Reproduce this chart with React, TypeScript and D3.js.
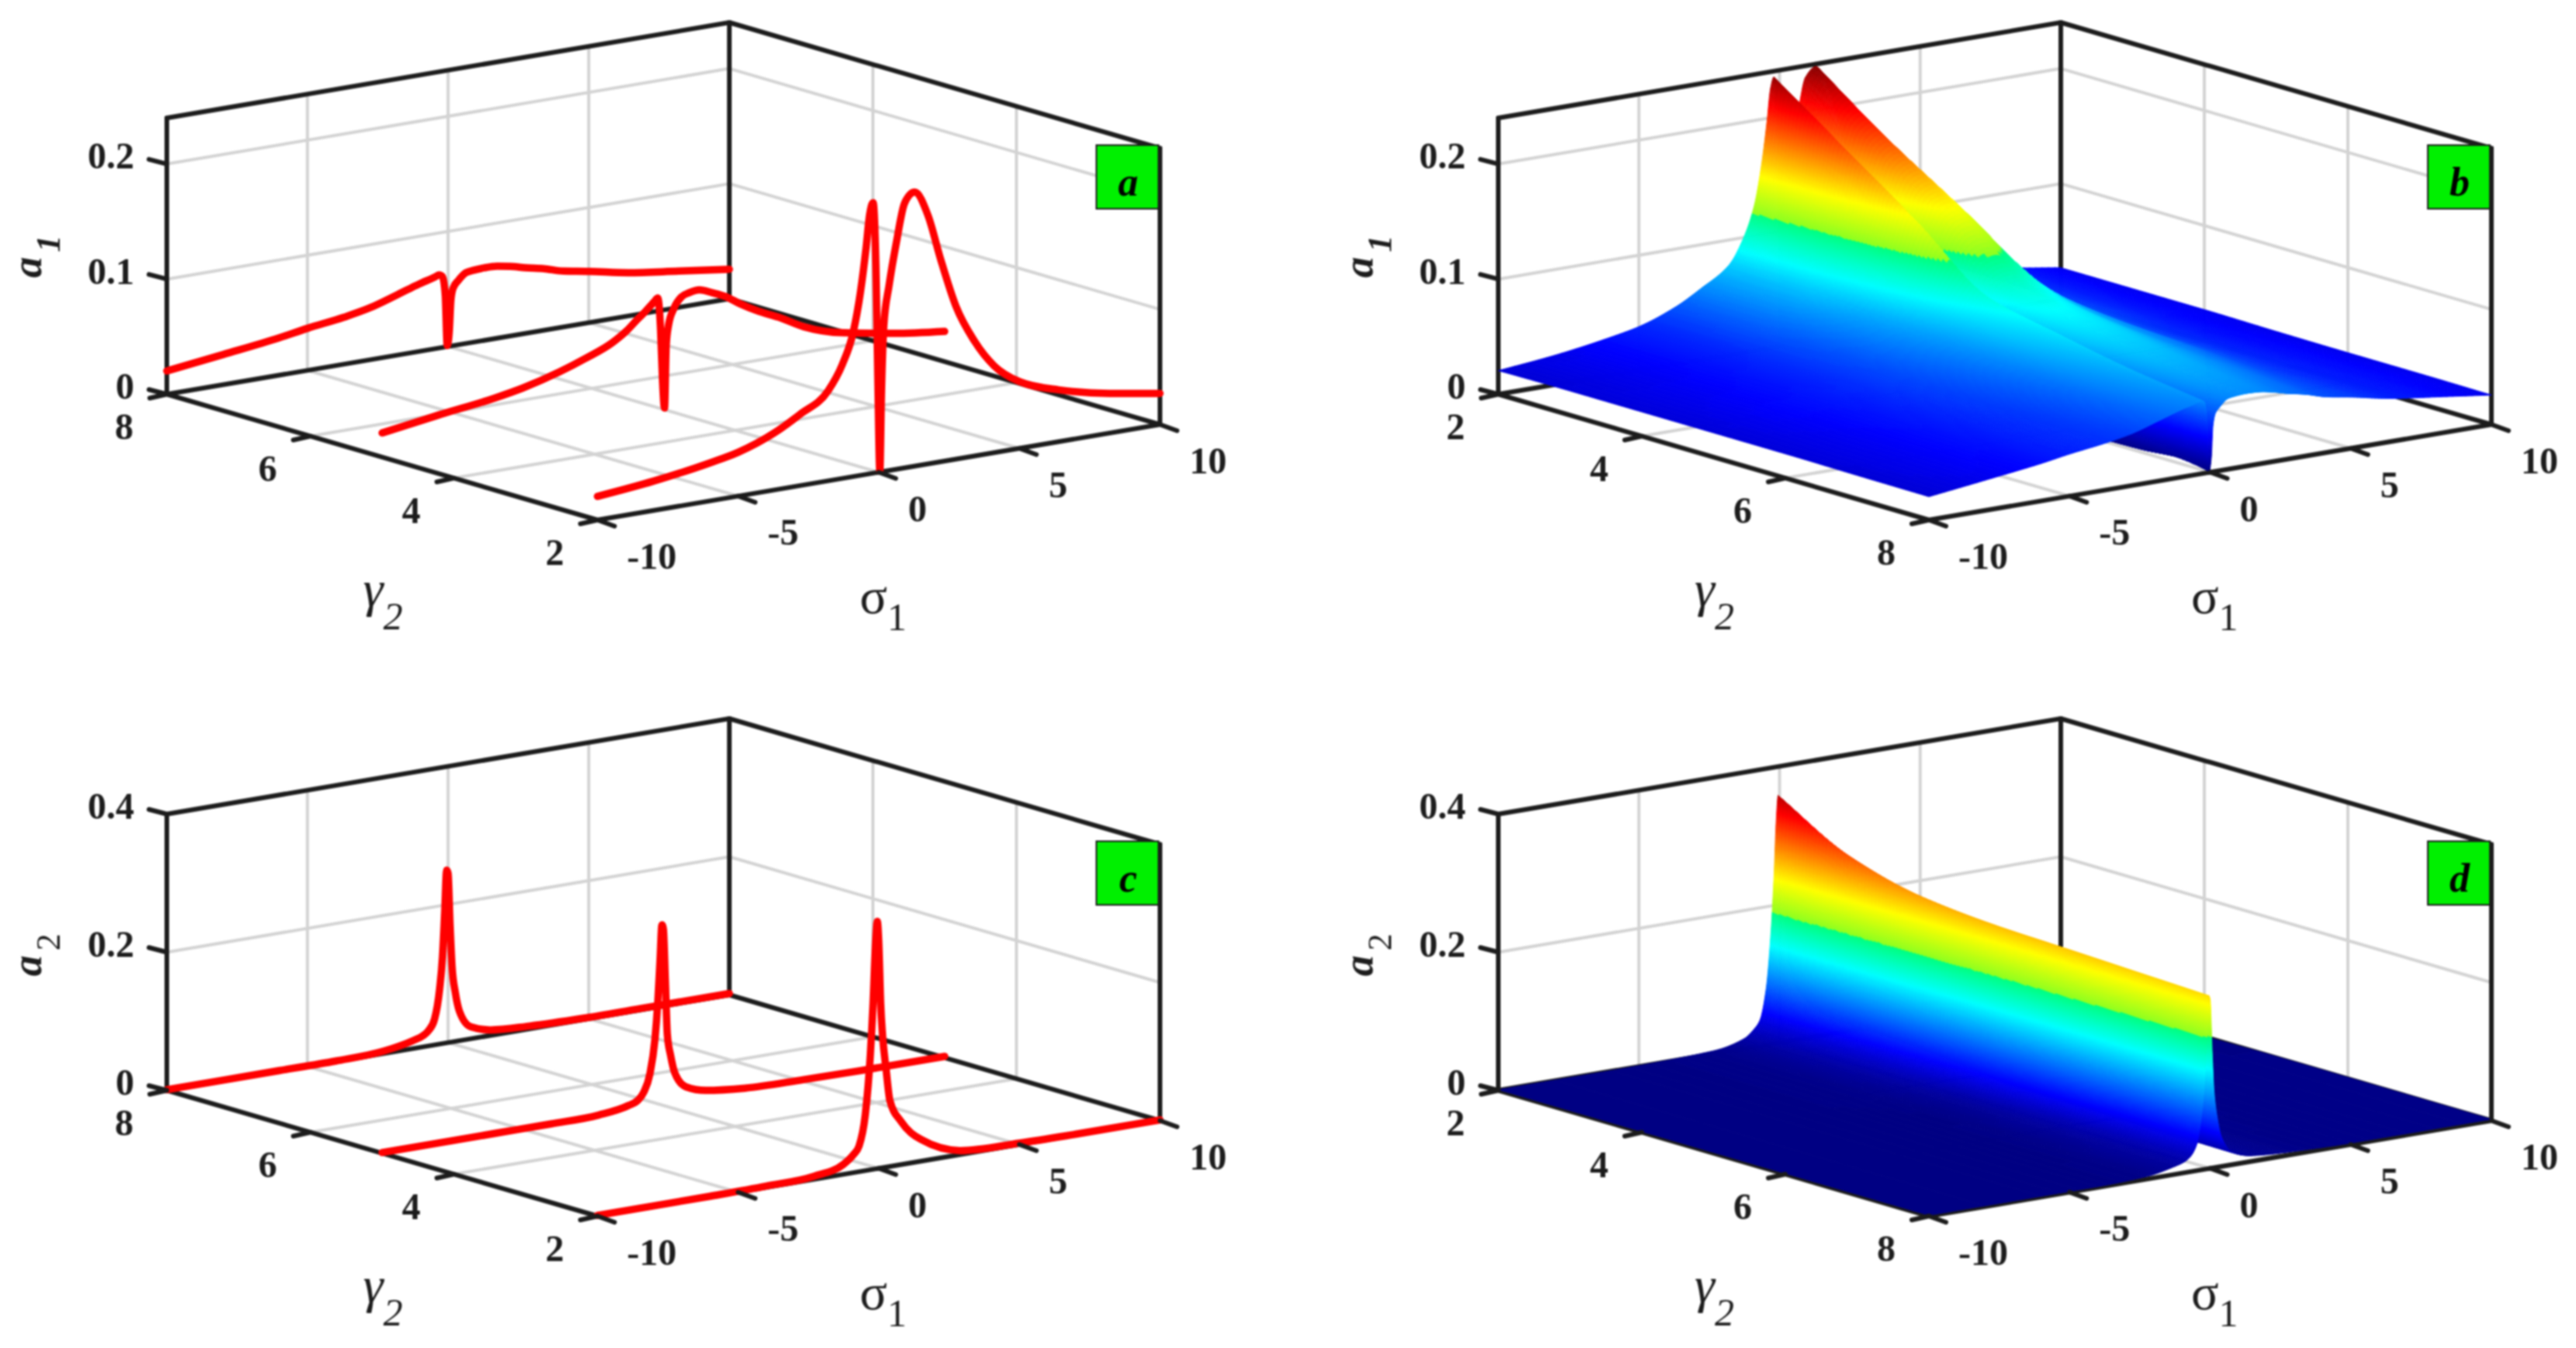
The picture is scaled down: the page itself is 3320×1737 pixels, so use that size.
import React, { useEffect, useRef } from 'react';
import * as d3 from 'd3';

// sigma_1 samples (dense around the notch/peak at 0)
const sigmaA1 = [-10, -8, -6, -5, -3.7, -2.8, -1.8, -1.3, -0.9, -0.65, -0.45, -0.32, -0.2, -0.1, -0.03, 0.04, 0.1, 0.18, 0.37, 0.64, 0.92, 1.28, 1.75, 2.2, 2.75, 3.4, 4.1, 5, 6.4, 8.2, 10];
const sigmaA2 = [-10, -6, -4, -2.3, -1.25, -0.9, -0.7, -0.48, -0.3, -0.2, -0.12, -0.05, 0, 0.07, 0.14, 0.26, 0.4, 0.8, 1.5, 2.9, 5, 7, 10];
const gammaRows = [2, 3, 4, 5, 6, 7, 8];

const a1Gamma2 = [0.0205, 0.0255, 0.033, 0.038, 0.0497, 0.0619, 0.0782, 0.0986, 0.126, 0.159, 0.1965, 0.2255, 0.235, 0.18, 0.08, 0.001, 0.07, 0.126, 0.161, 0.1985, 0.23, 0.238, 0.216, 0.176, 0.1325, 0.1, 0.0755, 0.058, 0.045, 0.0345, 0.027];
const a1Gamma3 = [0.021, 0.026, 0.033, 0.038, 0.05, 0.0615, 0.078, 0.095, 0.117, 0.143, 0.168, 0.185, 0.19, 0.145, 0.06, 0.001, 0.068, 0.11, 0.14, 0.168, 0.185, 0.19, 0.18, 0.155, 0.122, 0.094, 0.073, 0.057, 0.044, 0.034, 0.027];
const a1Gamma4 = [0.021, 0.027, 0.034, 0.039, 0.049, 0.059, 0.072, 0.086, 0.102, 0.118, 0.133, 0.142, 0.145, 0.11, 0.045, 0.001, 0.063, 0.09, 0.113, 0.133, 0.143, 0.146, 0.14, 0.125, 0.105, 0.086, 0.07, 0.055, 0.043, 0.033, 0.027];
const a1Gamma5 = [0.021, 0.0282, 0.0347, 0.0393, 0.0478, 0.0555, 0.0657, 0.0738, 0.0825, 0.0875, 0.092, 0.095, 0.0975, 0.07, 0.025, 0.001, 0.055, 0.072, 0.086, 0.095, 0.0975, 0.0985, 0.094, 0.089, 0.08, 0.071, 0.063, 0.051, 0.04, 0.032, 0.0263];
const a1Gamma6 = [0.021, 0.027, 0.034, 0.038, 0.045, 0.051, 0.06, 0.067, 0.073, 0.076, 0.079, 0.081, 0.083, 0.06, 0.02, 0.001, 0.05, 0.063, 0.074, 0.081, 0.083, 0.083, 0.081, 0.077, 0.071, 0.064, 0.058, 0.049, 0.039, 0.032, 0.026];
const a1Gamma7 = [0.0205, 0.027, 0.033, 0.037, 0.042, 0.047, 0.055, 0.061, 0.065, 0.068, 0.07, 0.072, 0.071, 0.052, 0.013, 0.002, 0.045, 0.056, 0.064, 0.07, 0.072, 0.072, 0.071, 0.068, 0.064, 0.059, 0.053, 0.046, 0.038, 0.032, 0.026];
const a1Gamma8 = [0.0202, 0.0262, 0.0325, 0.0365, 0.0408, 0.045, 0.0525, 0.0565, 0.0595, 0.061, 0.0625, 0.0635, 0.0615, 0.045, 0.001, 0.012, 0.04, 0.05, 0.056, 0.0615, 0.0625, 0.063, 0.0625, 0.0605, 0.057, 0.0535, 0.0485, 0.0445, 0.0375, 0.0315, 0.0256];

const a2Gamma2 = [0.001, 0.001, 0.002, 0.0045, 0.0146, 0.026, 0.037, 0.08, 0.165, 0.24, 0.32, 0.358, 0.33, 0.238, 0.19, 0.1427, 0.095, 0.062, 0.0315, 0.0056, 0.002, 0.001, 0.001];
const a2Gamma3 = [0.001, 0.001, 0.002, 0.0042, 0.014, 0.024, 0.034, 0.072, 0.15, 0.21, 0.27, 0.3, 0.285, 0.21, 0.16, 0.115, 0.08, 0.05, 0.026, 0.006, 0.002, 0.001, 0.001];
const a2Gamma4 = [0.001, 0.001, 0.002, 0.004, 0.012, 0.02, 0.03, 0.06, 0.125, 0.18, 0.235, 0.272, 0.265, 0.19, 0.13, 0.09, 0.06, 0.035, 0.018, 0.005, 0.002, 0.002, 0.001];
const a2Gamma5 = [0.001, 0.001, 0.001, 0.002, 0.0085, 0.014, 0.024, 0.049, 0.098, 0.15, 0.21, 0.262, 0.255, 0.18, 0.102, 0.07, 0.045, 0.0215, 0.0115, 0.005, 0.003, 0.002, 0.002];
const a2Gamma6 = [0.001, 0.001, 0.001, 0.0025, 0.0095, 0.015, 0.023, 0.045, 0.092, 0.14, 0.2, 0.258, 0.252, 0.176, 0.105, 0.07, 0.044, 0.02, 0.01, 0.0045, 0.003, 0.002, 0.002];
const a2Gamma7 = [0.001, 0.001, 0.001, 0.003, 0.0105, 0.0155, 0.0225, 0.041, 0.085, 0.13, 0.195, 0.254, 0.249, 0.173, 0.108, 0.07, 0.043, 0.0185, 0.009, 0.004, 0.0025, 0.002, 0.002];
const a2Gamma8 = [0.001, 0.001, 0.001, 0.0035, 0.0115, 0.016, 0.022, 0.0376, 0.08, 0.125, 0.19, 0.25, 0.245, 0.17, 0.11, 0.07, 0.043, 0.0175, 0.008, 0.004, 0.002, 0.002, 0.002];

const sigmaTicks = [-10, -5, 0, 5, 10];
const gammaTicks = [2, 4, 6, 8];
const a1Ticks = [0, 0.1, 0.2];
const a2Ticks = [0, 0.2, 0.4];
// jet, but the colormap of the figure jumps at its midpoint
const jetStops = [0, 0.125, 0.375, 0.4995, 0.5, 0.625, 0.875, 1];
const jetColors = ['#000080', '#0000ff', '#00ffff', '#00ff80', '#90ff20', '#ffff00', '#ff0000', '#800000'];

const FONT = '"Liberation Serif", serif';
const INK = '#1c1c1c';
const GRID = '#d3d3d3';

const a1Rows = [a1Gamma2, a1Gamma3, a1Gamma4, a1Gamma5, a1Gamma6, a1Gamma7, a1Gamma8];
const a2Rows = [a2Gamma2, a2Gamma3, a2Gamma4, a2Gamma5, a2Gamma6, a2Gamma7, a2Gamma8];

const panels = [
  { id: 'a', dx: 0, dy: 0, sub: '1', zMax: 0.24, zTicks: a1Ticks, gammaDomain: [8, 2], sigma: sigmaA1, rows: a1Rows, surface: false, colorMax: 0.24 },
  { id: 'b', dx: 1716, dy: 0, sub: '1', zMax: 0.24, zTicks: a1Ticks, gammaDomain: [2, 8], sigma: sigmaA1, rows: a1Rows, surface: true, colorMax: 0.24 },
  { id: 'c', dx: 0, dy: 897, sub: '2', zMax: 0.4, zTicks: a2Ticks, gammaDomain: [8, 2], sigma: sigmaA2, rows: a2Rows, surface: false, colorMax: 0.38 },
  { id: 'd', dx: 1716, dy: 897, sub: '2', zMax: 0.4, zTicks: a2Ticks, gammaDomain: [2, 8], sigma: sigmaA2, rows: a2Rows, surface: true, colorMax: 0.38 },
];

// box geometry of one panel, all four panels are translated copies
const left = { x: 215, y: 508 };
const front = { x: 770, y: 670 };
const right = { x: 1495, y: 547 };
const boxHeight = 356;

// monotone cubic between the read values, used only to shade the surface smoothly
function monotone(xs: number[], ys: number[]) {
  const n = xs.length;
  const delta = d3.range(n - 1).map((i) => (ys[i + 1] - ys[i]) / (xs[i + 1] - xs[i]));
  const m = d3.range(n).map((i) => {
    if (i === 0) return delta[0];
    if (i === n - 1) return delta[n - 2];
    if (delta[i - 1] * delta[i] <= 0) return 0;
    const h0 = xs[i] - xs[i - 1], h1 = xs[i + 1] - xs[i];
    return (3 * (h0 + h1)) / ((2 * h1 + h0) / delta[i - 1] + (h1 + 2 * h0) / delta[i]);
  });
  return (x: number) => {
    let i = d3.bisectRight(xs, x) - 1;
    i = Math.max(0, Math.min(n - 2, i));
    const h = xs[i + 1] - xs[i];
    const t = (x - xs[i]) / h;
    const t2 = t * t, t3 = t2 * t;
    return (2 * t3 - 3 * t2 + 1) * ys[i] + (t3 - 2 * t2 + t) * h * m[i] + (-2 * t3 + 3 * t2) * ys[i + 1] + (t3 - t2) * h * m[i + 1];
  };
}

export default function App() {
  const svgRef = useRef<SVGSVGElement>(null);

  useEffect(() => {
    if (!svgRef.current) return;
    const svg = d3.select(svgRef.current);
    svg.selectAll('*').remove();

    // the source is a slightly soft raster
    svg.append('defs').append('filter').attr('id', 'soft')
      .attr('filterUnits', 'userSpaceOnUse')
      .attr('x', 0).attr('y', 0).attr('width', 3320).attr('height', 1737)
      .attr('color-interpolation-filters', 'sRGB')
      .append('feGaussianBlur').attr('stdDeviation', 0.9);
    const root = svg.append('g').attr('filter', 'url(#soft)');

    panels.forEach((p) => {
      const g = root.append('g').attr('transform', `translate(${p.dx},${p.dy})`);

      const sigmaScale = d3.scaleLinear().domain([-10, 10]).range([0, 1]);
      const gammaScale = d3.scaleLinear().domain(p.gammaDomain).range([0, 1]);
      const zScale = d3.scaleLinear().domain([0, p.zMax]).range([0, boxHeight]);
      const jet = d3.scaleLinear<string>()
        .domain(jetStops.map((s) => s * p.colorMax))
        .range(jetColors)
        .clamp(true);

      const project = (s: number, gm: number, z: number): [number, number] => {
        const u = sigmaScale(s);
        const v = gammaScale(gm);
        return [
          left.x + u * (right.x - front.x) + v * (front.x - left.x),
          left.y + u * (right.y - front.y) + v * (front.y - left.y) - zScale(z),
        ];
      };
      const straight = d3.line();
      const seg = (sel: any, pts: [number, number][], color: string, w: number) =>
        sel.append('path').attr('d', straight(pts)).attr('fill', 'none')
          .attr('stroke', color).attr('stroke-width', w).attr('stroke-linecap', 'round');

      const sMin = -10, sMax = 10;
      const farGamma = p.gammaDomain[0], nearGamma = p.gammaDomain[1];

      // grid on the walls and the floor
      const grid = g.append('g');
      sigmaTicks.slice(1, -1).forEach((s) => {
        seg(grid, [project(s, nearGamma, 0), project(s, farGamma, 0)], GRID, 4);
        seg(grid, [project(s, farGamma, 0), project(s, farGamma, p.zMax)], GRID, 4);
      });
      gammaTicks.slice(1, -1).forEach((gm) => {
        seg(grid, [project(sMin, gm, 0), project(sMax, gm, 0)], GRID, 4);
        seg(grid, [project(sMax, gm, 0), project(sMax, gm, p.zMax)], GRID, 4);
      });
      p.zTicks.slice(1).forEach((z) => {
        if (z >= p.zMax) return;
        seg(grid, [project(sMin, farGamma, z), project(sMax, farGamma, z)], GRID, 4);
        seg(grid, [project(sMax, farGamma, z), project(sMax, nearGamma, z)], GRID, 4);
      });

      // box frame
      const frame = g.append('g');
      const edges: [number, number, number][][] = [
        [[sMin, farGamma, 0], [sMax, farGamma, 0]],
        [[sMax, farGamma, 0], [sMax, nearGamma, 0]],
        [[sMin, farGamma, 0], [sMin, nearGamma, 0]],
        [[sMin, nearGamma, 0], [sMax, nearGamma, 0]],
        [[sMin, farGamma, 0], [sMin, farGamma, p.zMax]],
        [[sMax, farGamma, 0], [sMax, farGamma, p.zMax]],
        [[sMax, nearGamma, 0], [sMax, nearGamma, p.zMax]],
        [[sMin, farGamma, p.zMax], [sMax, farGamma, p.zMax]],
        [[sMax, farGamma, p.zMax], [sMax, nearGamma, p.zMax]],
      ];
      edges.forEach(([a, b]) => seg(frame, [project(a[0], a[1], a[2]), project(b[0], b[1], b[2])], INK, 6));

      if (p.surface) {
        // interp shading: the data grid is refined, cut in sigma strips and drawn back to front.
        // neighbours with the same colour level get merged to keep the node count down
        const marks = g.append('g');
        const rowFns = p.rows.map((r) => monotone(p.sigma, r));
        const fineSigma: number[] = [p.sigma[0]];
        for (let i = 0; i < p.sigma.length - 1; i++) {
          const jump = d3.max(p.rows, (r) => Math.abs(r[i + 1] - r[i])) as number;
          const ns = Math.ceil((jump / p.colorMax) * 160) + 2;
          for (let a = 1; a <= ns; a++) fineSigma.push(p.sigma[i] + ((p.sigma[i + 1] - p.sigma[i]) * a) / ns);
        }
        const fineGamma = d3.range(0, 121).map((k) => 2 + k / 20);
        const zGrid = fineSigma.map((s) => {
          const col = monotone(gammaRows, rowFns.map((fn) => fn(s)));
          return fineGamma.map((gm) => col(gm));
        });
        const level = (z: number) => Math.round((z / p.colorMax) * 300);
        for (let i = fineSigma.length - 2; i >= 0; i--) {
          const cell = (j: number) => (zGrid[i][j] + zGrid[i + 1][j] + zGrid[i + 1][j + 1] + zGrid[i][j + 1]) / 4;
          let j = 0;
          while (j < fineGamma.length - 1) {
            const lv = level(cell(j));
            let k = j + 1;
            while (k < fineGamma.length - 1 && level(cell(k)) === lv) k++;
            const near = d3.range(j, k + 1).map((q) => project(fineSigma[i], fineGamma[q], zGrid[i][q]));
            const far = d3.range(k, j - 1, -1).map((q) => project(fineSigma[i + 1], fineGamma[q], zGrid[i + 1][q]));
            const color = jet((lv / 300) * p.colorMax);
            marks.append('path').attr('d', straight([...near, ...far]) + 'Z')
              .attr('fill', color).attr('stroke', color).attr('stroke-width', 1);
            j = k;
          }
        }
      } else {
        // a/c: the three gamma slices as red lines
        const l = d3.line().curve(d3.curveMonotoneX);
        [8, 5, 2].forEach((gm) => {
          const row = p.rows[gammaRows.indexOf(gm)];
          const pts = row.map((z, i) => project(p.sigma[i], gm, z));
          g.append('path').attr('d', l(pts)).attr('fill', 'none')
            .attr('stroke', '#ff0000').attr('stroke-width', 9.5)
            .attr('stroke-linejoin', 'round').attr('stroke-linecap', 'round');
        });
      }

      // ticks
      const tickLabel = (x: number, y: number, text: string, anchor: string) =>
        g.append('text').attr('x', x).attr('y', y).attr('text-anchor', anchor)
          .attr('font-family', FONT).attr('font-weight', 'bold').attr('font-size', 48)
          .attr('fill', INK).text(text);

      p.zTicks.forEach((z) => {
        const [x, y] = project(sMin, farGamma, z);
        seg(g, [[x, y], [x - 23, y - 6]], INK, 6);
        tickLabel(173, y + 6, String(z), 'end');
      });
      gammaTicks.forEach((gm) => {
        const [x, y] = project(sMin, gm, 0);
        seg(g, [[x, y], [x - 22, y + 5]], INK, 6);
        tickLabel(x - 55, y + 58, String(gm), 'middle');
      });
      sigmaTicks.forEach((s) => {
        const [x, y] = project(s, nearGamma, 0);
        seg(g, [[x, y], [x + 22, y + 8]], INK, 6);
        tickLabel(x + 38, y + 63, String(s), 'start');
      });

      // axis titles
      const gt = g.append('text').attr('x', 468).attr('y', 781).attr('font-family', FONT).attr('fill', INK);
      gt.append('tspan').attr('font-size', 66).attr('font-style', 'italic').text('γ');
      gt.append('tspan').attr('font-size', 50).attr('font-style', 'italic').attr('dy', 30).text('2');
      const st = g.append('text').attr('x', 1108).attr('y', 790).attr('font-family', FONT).attr('fill', INK);
      st.append('tspan').attr('font-size', 66).text('σ');
      st.append('tspan').attr('font-size', 50).attr('dy', 22).text('1');

      const zt = g.append('text')
        .attr('transform', `translate(53,${p.sub === '1' ? 358 : 361}) rotate(-90)`)
        .attr('font-family', FONT).attr('fill', INK).attr('font-weight', 'bold');
      zt.append('tspan').attr('font-size', 54).attr('font-style', 'italic').text('a');
      zt.append('tspan').attr('font-size', 44).attr('font-style', p.sub === '1' ? 'italic' : 'normal')
        .attr('dx', 6).attr('dy', 24).attr('font-weight', p.sub === '1' ? 'bold' : 'normal').text(p.sub);

      // panel tag
      g.append('rect').attr('x', 1413).attr('y', 187).attr('width', 80).attr('height', 82)
        .attr('fill', '#00f000').attr('stroke', INK).attr('stroke-width', 2);
      g.append('text').attr('x', 1454).attr('y', 252).attr('text-anchor', 'middle')
        .attr('font-family', FONT).attr('font-weight', 'bold').attr('font-style', 'italic')
        .attr('font-size', 52).attr('fill', '#000').text(p.id);
    });
  }, []);

  return (
    <svg
      ref={svgRef}
      width={3320}
      height={1737}
      style={{ position: 'absolute', left: 0, top: 0, background: '#fff' }}
    />
  );
}
